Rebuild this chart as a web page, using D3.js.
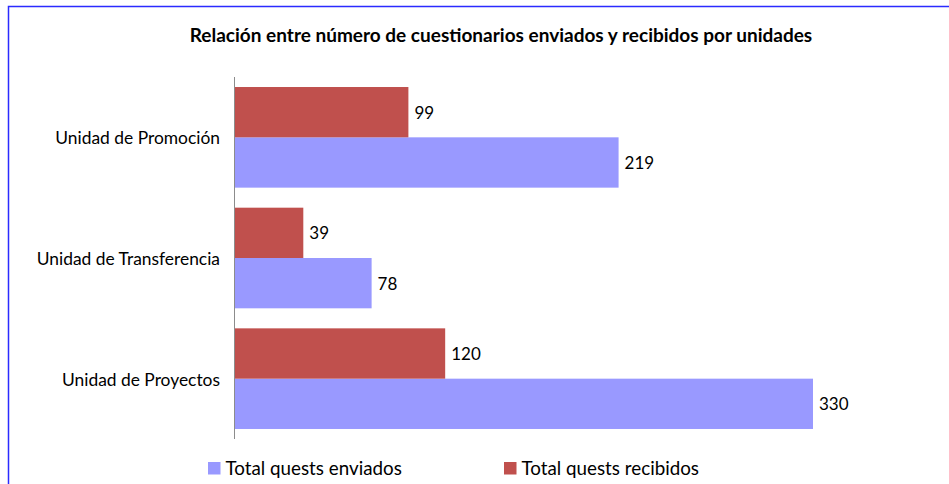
<!DOCTYPE html>
<html>
<head>
<meta charset="utf-8">
<script src="https://cdn.jsdelivr.net/npm/d3@7"></script>
<style>
  body { margin: 0; background: #fff; }
  text { font-family: Lato, "Open Sans", sans-serif; fill: #000; }
</style>
</head>
<body>
<svg id="chart" width="949" height="484"></svg>
<script>
// chart data
var units = ["Unidad de Promoción", "Unidad de Transferencia", "Unidad de Proyectos"];
var enviados = [219, 78, 330];
var recibidos = [99, 39, 120];
var seriesNames = ["Total quests enviados", "Total quests recibidos"];
var seriesColors = ["#9999ff", "#c0504d"];

var svg = d3.select("#chart"),
    width = +svg.attr("width"),
    height = +svg.attr("height");

// outer frame (only top/left edges visible in the crop)
svg.append("rect")
   .attr("x", 8.5).attr("y", 6.5)
   .attr("width", 960).attr("height", 500)
   .attr("fill", "none")
   .attr("stroke", "#2b2bff")
   .attr("stroke-width", 1.5);

svg.append("text")
   .attr("x", 501).attr("y", 42)
   .attr("text-anchor", "middle")
   .style("font-weight", "bold")
   .style("font-size", "19px")
   .text("Relación entre número de cuestionarios enviados y recibidos por unidades");

var x0 = 235,
    x = d3.scaleLinear().domain([0, 330]).range([x0, 813]),
    y = d3.scaleBand().domain(units).range([77, 439]).paddingInner(0.166).paddingOuter(0.083),
    sub = d3.scaleBand().domain([1, 0]).range([0, y.bandwidth()]);

var groups = svg.append("g")
    .selectAll("g")
    .data(units)
    .enter().append("g")
            .attr("transform", function(d) { return "translate(0," + y(d) + ")"; });

groups.each(function(u, i) {
    var g = d3.select(this);
    var vals = [enviados[i], recibidos[i]];
    vals.forEach(function(v, s) {
        g.append("rect")
         .attr("x", x0)
         .attr("y", sub(s))
         .attr("width", x(v) - x0)
         .attr("height", sub.bandwidth())
         .attr("fill", seriesColors[s]);
        g.append("text")
         .attr("x", x(v) + 6)
         .attr("y", sub(s) + sub.bandwidth() / 2 + 6.5)
         .style("font-size", "17px")
         .text(v);
    });
});

// category labels
svg.append("g")
   .selectAll("text")
   .data(units)
   .enter().append("text")
           .attr("x", 220)
           .attr("y", function(d) { return y(d) + y.bandwidth() / 2 + 7; })
           .attr("text-anchor", "end")
           .style("font-size", "17.4px")
           .text(function(d) { return d; });

// vertical axis line
svg.append("line")
   .attr("x1", x0 - 0.5).attr("x2", x0 - 0.5)
   .attr("y1", 77).attr("y2", 439)
   .attr("stroke", "#8c8c8c")
   .attr("stroke-width", 1);

// legend
var legendX = [208, 504];
seriesNames.forEach(function(name, s) {
    svg.append("rect")
       .attr("x", legendX[s]).attr("y", 462)
       .attr("width", 12.5).attr("height", 12.5)
       .attr("fill", seriesColors[s]);
    svg.append("text")
       .attr("x", legendX[s] + 17.5).attr("y", 475)
       .style("font-size", "18.8px")
       .text(name);
});
</script>
</body>
</html>
